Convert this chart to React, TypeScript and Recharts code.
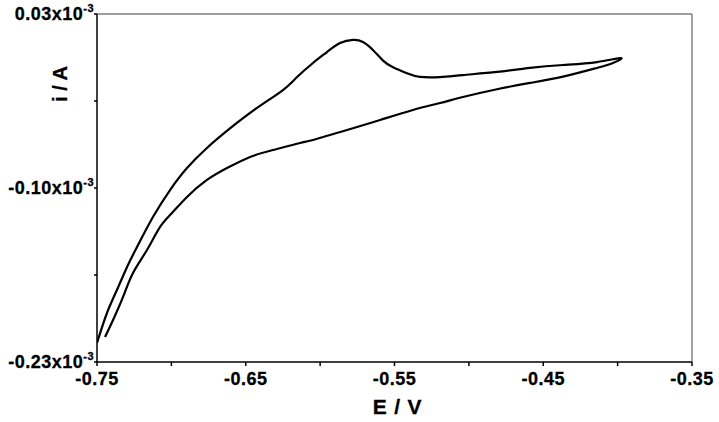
import React from 'react';
import { LineChart, Line, XAxis, YAxis, ReferenceLine } from 'recharts';

// Potential (V) and current (x10^-3 A), in sweep order (forward branch then reverse branch)
const potential = [
  -0.7446, -0.7392, -0.7325, -0.7258, -0.7164, -0.7076, -0.6996, -0.6895, -0.6761, -0.6626,
  -0.6471, -0.6317, -0.6135, -0.6048, -0.5819, -0.5597, -0.5376, -0.5194, -0.5040, -0.4811,
  -0.4589, -0.4367, -0.4139, -0.4031, -0.3977,
  -0.4139, -0.4367, -0.4589, -0.4811, -0.5040, -0.5194, -0.5329, -0.5416, -0.5510, -0.5577,
  -0.5645, -0.5712, -0.5779, -0.5866, -0.5954, -0.6048, -0.6155, -0.6250, -0.6424, -0.6606,
  -0.6761, -0.6895, -0.7009, -0.7124, -0.7231, -0.7298, -0.7366, -0.7433, -0.7500,
];
const current = [
  -0.2113, -0.1986, -0.1814, -0.1635, -0.1463, -0.1291, -0.1187, -0.1067, -0.0940, -0.0851,
  -0.0768, -0.0716, -0.0664, -0.0641, -0.0567, -0.0492, -0.0417, -0.0365, -0.0320, -0.0262,
  -0.0215, -0.0168, -0.0103, -0.0066, -0.0029,
  -0.0059, -0.0081, -0.0103, -0.0133, -0.0156, -0.0171, -0.0170, -0.0143, -0.0098, -0.0048,
  0.0031, 0.0091, 0.0106, 0.0083, 0.0016, -0.0066, -0.0171, -0.0268, -0.0402, -0.0555,
  -0.0701, -0.0851, -0.1015, -0.1217, -0.1441, -0.1590, -0.1762, -0.1934, -0.2158,
];

const xTicks = [-0.75, -0.7, -0.65, -0.6, -0.55, -0.5, -0.45, -0.4, -0.35];
const xTickLabels = ['-0.75', '', '-0.65', '', '-0.55', '', '-0.45', '', '-0.35'];
const yTicks = [0.03, -0.035, -0.1, -0.165, -0.23];
const yTickLabels = ['0.03x10', '', '-0.10x10', '', '-0.23x10'];
const yExponent = '-3';
const xTitle = 'E / V';
const yTitle = 'i / A';

const data = potential.map((E, k) => ({ E, i: current[k] }));

const FONT = '"Liberation Sans", Arial, sans-serif';

const YTick = (props: any) => {
  const { x, y, payload } = props;
  const idx = yTicks.indexOf(payload.value);
  const label = idx >= 0 ? yTickLabels[idx] : '';
  if (!label) return null;
  return (
    <text
      x={x}
      y={y}
      textAnchor="end"
      fontFamily={FONT}
      fontWeight="bold"
      fontSize={18}
      letterSpacing={0.5}
      fill="#000"
      stroke="#000"
      strokeWidth={0.3}
    >
      <tspan dy="0.36em">{label}</tspan>
      <tspan dy={-8} fontSize={11}>{yExponent}</tspan>
    </text>
  );
};

const XTick = (props: any) => {
  const { x, y, payload } = props;
  const idx = xTicks.findIndex((t) => Math.abs(t - payload.value) < 1e-9);
  const label = idx >= 0 ? xTickLabels[idx] : '';
  if (!label) return null;
  return (
    <text
      x={x}
      y={y}
      textAnchor="middle"
      fontFamily={FONT}
      fontWeight="bold"
      fontSize={18}
      letterSpacing={0.5}
      fill="#000"
      stroke="#000"
      strokeWidth={0.3}
    >
      <tspan dy="0.71em">{label}</tspan>
    </text>
  );
};

const XTitle = (props: any) => {
  const vb = props.viewBox;
  return (
    <text
      x={vb.x + vb.width / 2 + 3}
      y={vb.y + 44}
      textAnchor="middle"
      dominantBaseline="central"
      fontFamily={FONT}
      fontWeight="bold"
      fontSize={21}
      letterSpacing={0.8}
      fill="#000"
      stroke="#000"
      strokeWidth={0.3}
    >
      {xTitle}
    </text>
  );
};

const YTitle = (props: any) => {
  const vb = props.viewBox;
  const cx = vb.x + 60;
  const cy = vb.y + 70;
  return (
    <text
      x={cx}
      y={cy}
      transform={`rotate(-90 ${cx} ${cy})`}
      textAnchor="middle"
      dominantBaseline="central"
      fontFamily={FONT}
      fontWeight="bold"
      fontSize={20}
      fill="#000"
      stroke="#000"
      strokeWidth={0.3}
    >
      {yTitle}
    </text>
  );
};

export default function App() {
  return (
    <div style={{ position: 'absolute', left: 0, top: 0, width: 719, height: 422, background: '#fff' }}>
      <LineChart
        width={719}
        height={422}
        data={data}
        margin={{ top: 14, right: 27, left: 0, bottom: 0 }}
      >
        <XAxis
          type="number"
          dataKey="E"
          domain={[-0.75, -0.35]}
          ticks={xTicks}
          allowDataOverflow
          height={60}
          tickSize={4}
          tickMargin={6}
          stroke="#000"
          strokeWidth={1.5}
          tick={<XTick />}
          label={<XTitle />}
        />
        <YAxis
          type="number"
          dataKey="i"
          domain={[-0.23, 0.03]}
          ticks={yTicks}
          allowDataOverflow
          width={97}
          tickSize={3}
          tickMargin={0}
          stroke="#000"
          strokeWidth={1.5}
          tick={<YTick />}
          label={<YTitle />}
        />
        <ReferenceLine y={0.03} stroke="#808080" strokeWidth={1.5} />
        <ReferenceLine x={-0.35} stroke="#808080" strokeWidth={1.5} />
        <Line
          type="natural"
          dataKey="i"
          stroke="#000"
          strokeWidth={2.2}
          dot={false}
          isAnimationActive={false}
        />
      </LineChart>
    </div>
  );
}
